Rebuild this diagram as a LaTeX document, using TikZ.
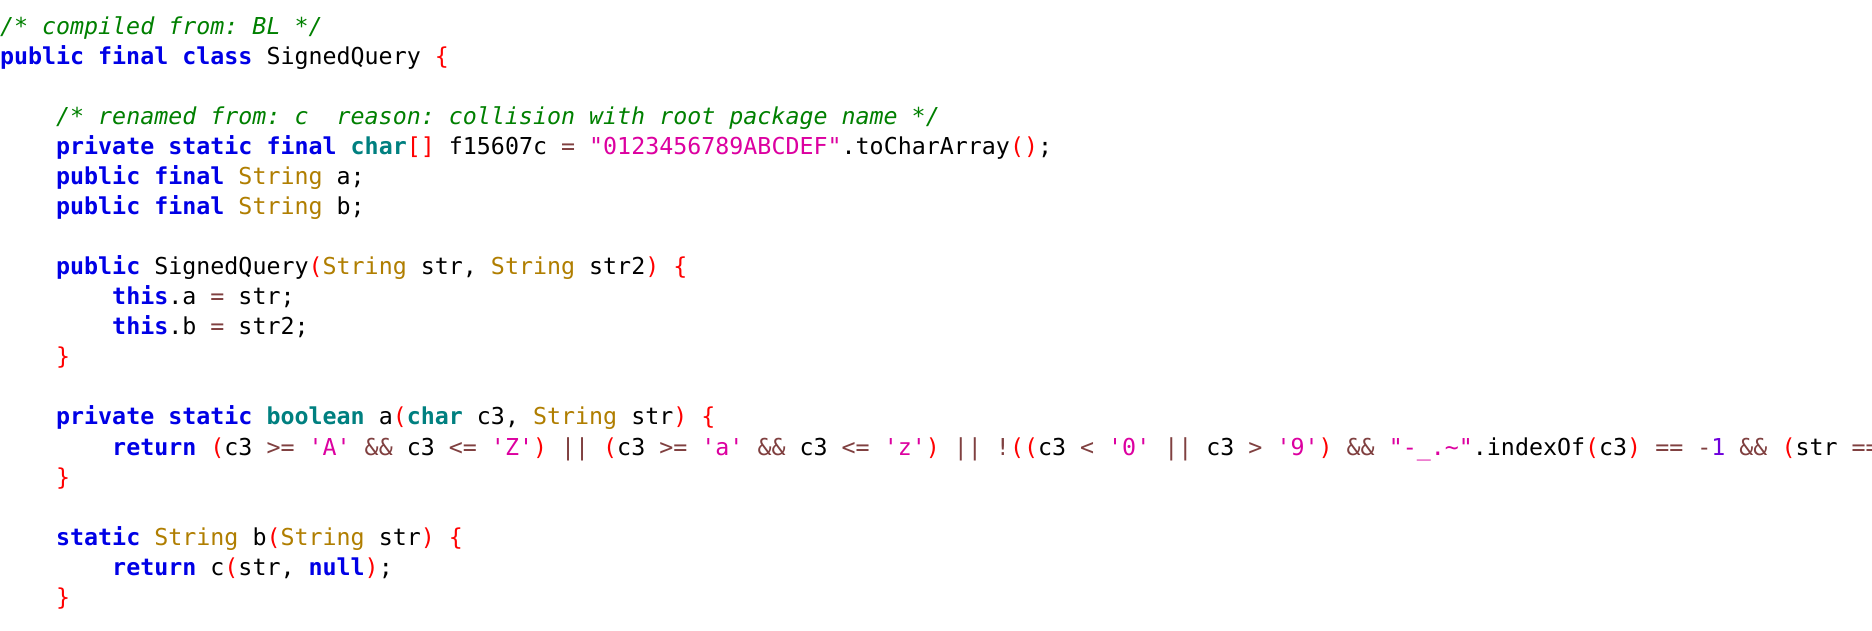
\documentclass[tikz,border=0pt]{standalone}
\usepackage{fontspec}
\newfontfamily\codefont[WordSpace={1,0,0},Ligatures=TeXOff]{DejaVu Sans Mono}
\definecolor{ckw}{RGB}{0,0,230}
\definecolor{cty}{RGB}{0,128,128}
\definecolor{ccl}{RGB}{176,126,0}
\definecolor{ccm}{RGB}{0,128,0}
\definecolor{cbr}{RGB}{255,0,0}
\definecolor{cop}{RGB}{128,64,64}
\definecolor{clt}{RGB}{220,0,160}
\definecolor{cnm}{RGB}{110,0,220}
\newcommand\xkw[1]{{\bfseries\color{ckw}#1}}
\newcommand\xty[1]{{\bfseries\color{cty}#1}}
\newcommand\xcl[1]{{\color{ccl}#1}}
\newcommand\xcm[1]{{\itshape\color{ccm}#1}}
\newcommand\xbr[1]{{\color{cbr}#1}}
\newcommand\xop[1]{{\color{cop}#1}}
\newcommand\xlt[1]{{\color{clt}#1}}
\newcommand\xnm[1]{{\color{cnm}#1}}
\frenchspacing
\begin{document}
\begin{tikzpicture}[x=1pt,y=1pt,
  codeline/.style={anchor=base west,inner sep=0pt,outer sep=0pt,
    font=\codefont\fontsize{23.3}{28}\selectfont\frenchspacing}]
\fill[white] (0,0) rectangle (1872,630);
\useasboundingbox (0,0) rectangle (1872,630);
\clip (0,0) rectangle (1872,630);
\def\cw{14.03}
\def\ind{56.12}
\def\indd{112.24}
\node[codeline] (l1) at (0,595) {\xcm{/* compiled from: BL */}};
\node[codeline] (l2) at (0,565) {\xkw{public final class} SignedQuery \xbr{\{}};
\node[codeline] (l4) at (\ind,505) {\xcm{/* renamed from: c\ \ reason: collision with root package name */}};
\node[codeline] (l5) at (\ind,475) {\xkw{private static final} \xty{char}\xbr{[]} f15607c \xop{=} \xlt{"0123456789ABCDEF"}.toCharArray\xbr{()};};
\node[codeline] (l6) at (\ind,445) {\xkw{public final} \xcl{String} a;};
\node[codeline] (l7) at (\ind,415) {\xkw{public final} \xcl{String} b;};
\node[codeline] (l9) at (\ind,355) {\xkw{public} SignedQuery\xbr{(}\xcl{String} str, \xcl{String} str2\xbr{)} \xbr{\{}};
\node[codeline] (l10) at (\indd,325) {\xkw{this}.a \xop{=} str;};
\node[codeline] (l11) at (\indd,295) {\xkw{this}.b \xop{=} str2;};
\node[codeline] (l12) at (\ind,265) {\xbr{\}}};
\node[codeline] (l14) at (\ind,205) {\xkw{private static} \xty{boolean} a\xbr{(}\xty{char} c3, \xcl{String} str\xbr{)} \xbr{\{}};
\node[codeline] (l15) at (\indd,175) {\xkw{return} \xbr{(}c3 \xop{>=} \xlt{'A'} \xop{\&\&} c3 \xop{<=} \xlt{'Z'}\xbr{)} \xop{||} \xbr{(}c3 \xop{>=} \xlt{'a'} \xop{\&\&} c3 \xop{<=} \xlt{'z'}\xbr{)} \xop{||} \xop{!}\xbr{((}c3 \xop{<} \xlt{'0'} \xop{||} c3 \xop{>} \xlt{'9'}\xbr{)} \xop{\&\&} \xlt{"-\_.\textasciitilde"}.indexOf\xbr{(}c3\xbr{)} \xop{==} \xop{-}\xnm{1} \xop{\&\&} \xbr{(}str \xop{==}};
\node[codeline] (l16) at (\ind,145) {\xbr{\}}};
\node[codeline] (l18) at (\ind,85) {\xkw{static} \xcl{String} b\xbr{(}\xcl{String} str\xbr{)} \xbr{\{}};
\node[codeline] (l19) at (\indd,55) {\xkw{return} c\xbr{(}str, \xkw{null}\xbr{)};};
\node[codeline] (l20) at (\ind,25) {\xbr{\}}};
\end{tikzpicture}
\end{document}
